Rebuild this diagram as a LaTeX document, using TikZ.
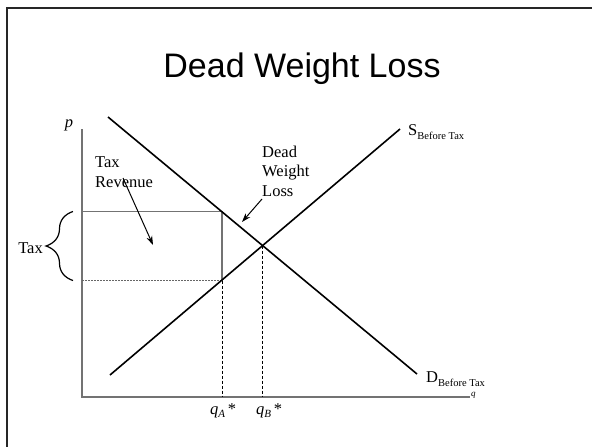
\documentclass[tikz,border=0pt]{standalone}
\usepackage{fontspec}
\setmainfont{Liberation Serif}
\newfontfamily\titlefont{Liberation Sans}
\usetikzlibrary{arrows.meta,decorations.pathreplacing}
\begin{document}
\begin{tikzpicture}[x=1pt,y=-1pt,
  frameline/.style={line width=2.6pt,black!85},
  axisline/.style={line width=1.4pt,black!55},
  curve/.style={line width=1.6pt,black},
  boxline/.style={line width=1.2pt,black!55},
  guide/.style={line width=0.8pt,black,dash pattern=on 3pt off 2pt},
  pointer/.style={line width=1pt,-{Stealth[length=9pt,width=6pt]}},
  lbl/.style={inner sep=0pt,font=\fontsize{16.5}{19.5}\selectfont}]
\useasboundingbox (0,0) rectangle (592,447);
% frame (cropped slide border)
\coordinate (fTR) at (592,8);
\coordinate (fTL) at (7,8);
\coordinate (fBL) at (7,447);
\draw[frameline] (fTR) -- (fTL) -- (fBL);
% title
\node[inner sep=0pt,anchor=base,font=\titlefont\fontsize{34}{34}\selectfont] (title) at (302,77) {Dead Weight Loss};
% axes
\coordinate (O) at (82,397);
\coordinate (Ytop) at (82,129);
\coordinate (Xend) at (470,397);
\draw[axisline] (Ytop) -- (O) -- (Xend);
\node[inner sep=0pt,anchor=west,font=\itshape\fontsize{9}{9}\selectfont] (qlab) at (471,395) {q};
\node[lbl,anchor=base,font=\itshape\fontsize{16.5}{19.5}\selectfont] (plab) at (69,127) {p};
% curves
\coordinate (Dtop) at (108,117);
\coordinate (Dbot) at (417,374);
\coordinate (Sbot) at (110,375);
\coordinate (Stop) at (400,129);
\coordinate (E) at (262,245.6);
\coordinate (A) at (222,211.5);
\coordinate (B) at (222,280.5);
\coordinate (Atop) at (82,211.5);
\coordinate (Abot) at (82,280.5);
\coordinate (qA) at (222,397);
\coordinate (qB) at (262,397);
% tax revenue box
\draw[boxline] (Atop) -- (A) -- (B);
\draw[line width=0.8pt,black!60,dash pattern=on 2pt off 1pt] (Abot) -- (B);
\draw[guide] (B) -- (qA);
\draw[guide] (E) -- (qB);
\draw[curve] (Dtop) -- (Dbot);
\draw[curve] (Sbot) -- (Stop);
% brace
\coordinate (brB) at (73,280.5);
\coordinate (brT) at (73,211.5);
\draw[line width=1.2pt,decorate,decoration={brace,amplitude=27pt}] (brB) -- (brT);
\node[lbl,anchor=base east] (taxlab) at (43,253) {Tax};
% labels
\node[lbl,anchor=base west,align=left] (rev) at (95,187) {Tax\\Revenue};
\coordinate (revS) at (123,178);
\coordinate (revE) at (153,245);
\draw[pointer] (revS) -- (revE);
\node[lbl,anchor=base west,align=left] (dwl) at (262,196) {Dead\\Weight\\Loss};
\coordinate (dwlS) at (262,199);
\coordinate (dwlE) at (242,222);
\draw[pointer] (dwlS) -- (dwlE);
\node[lbl,anchor=base west] (Slab) at (408,135) {S\raisebox{-4.5pt}{\fontsize{10.5}{10.5}\selectfont Before Tax}};
\node[lbl,anchor=base west] (Dlab) at (426,382) {D\raisebox{-4.5pt}{\fontsize{10.5}{10.5}\selectfont Before Tax}};
\node[lbl,anchor=base west] (qAlab) at (210,414) {\textit{q}\raisebox{-3pt}{\fontsize{11}{11}\selectfont\itshape A}\,*};
\node[lbl,anchor=base west] (qBlab) at (256,414) {\textit{q}\raisebox{-3pt}{\fontsize{11}{11}\selectfont\itshape B}\,*};
\end{tikzpicture}
\end{document}
